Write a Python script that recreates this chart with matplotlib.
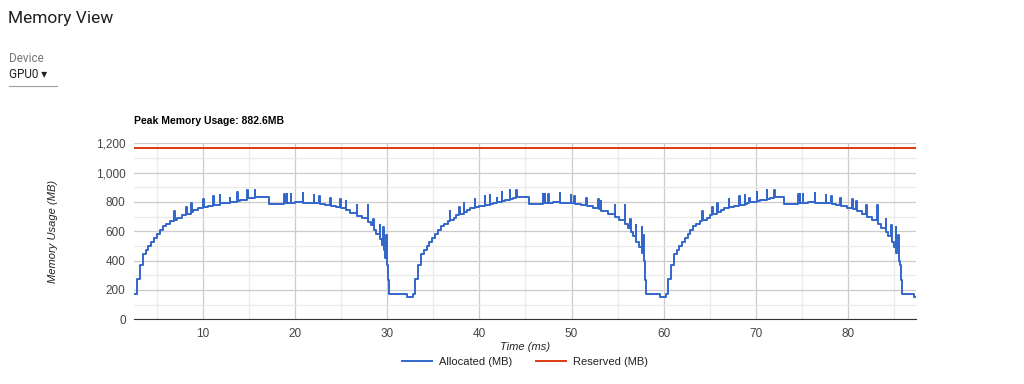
import matplotlib.pyplot as plt
from matplotlib.ticker import MultipleLocator, FuncFormatter

# allocated memory (step data, spikes written as up/down pairs)
t1 = [2.55, 2.8, 3.17, 3.5, 3.8, 4.07, 4.36, 4.69, 5.04, 5.34, 5.63, 5.99, 6.42,
      6.85, 6.9, 7.15, 7.69, 8.16, 8.21, 8.7, 8.75, 8.95, 9.5, 10.04, 10.09, 10.5,
      11.1, 11.15, 11.8, 11.85, 12.4, 12.9, 12.95, 13.7, 13.75, 14.0, 14.8, 14.85,
      15.0, 15.6, 15.65, 17.2, 18.0, 18.8, 18.85, 19.1, 19.15, 19.5, 19.55, 20.0,
      20.8, 20.85, 21.5, 22.0, 22.05, 22.6, 22.65, 23.2, 23.8, 23.85, 24.4, 24.9,
      24.95, 25.5, 25.55, 26.0, 26.7, 26.75, 27.2, 27.9, 27.95, 28.2, 28.5, 28.55,
      28.8, 29.2, 29.25, 29.4, 29.55, 29.6, 29.75, 29.9, 29.95, 30.05, 30.2, 32.1,
      32.8]
mb1 = [175, 273, 368, 443, 470, 500, 527, 557, 584, 612, 634, 652, 670,
       736, 680, 694, 709, 766, 715, 793, 735, 748, 758, 818, 765, 772,
       839, 782, 846, 790, 795, 828, 800, 868, 808, 815, 880, 825,
       830, 882.6, 833, 784, 788, 852, 790, 857, 792, 855, 795, 797,
       864, 795, 793, 850, 790, 839, 785, 780, 827, 772, 765, 823,
       758, 805, 745, 728, 777, 705, 690, 777, 665, 645, 687, 610,
       585, 641, 545, 510, 630, 470, 420, 573, 370, 270, 170, 150,
       170]

t2 = [33.0, 33.35, 33.7, 34.0, 34.26, 34.55, 34.9, 35.2, 35.5, 35.8, 36.2, 36.6,
      36.8, 36.85, 37.2, 37.5, 37.8, 37.85, 38.3, 38.35, 38.6, 39.0, 39.5, 39.55,
      40.0, 40.6, 40.65, 41.1, 41.15, 41.5, 41.9, 41.95, 42.4, 42.45, 42.8, 43.3,
      43.35, 43.6, 44.0, 44.05, 45.4, 46.3, 46.9, 46.95, 47.1, 47.15, 47.5, 47.55,
      48.0, 48.7, 48.75, 49.3, 49.9, 49.95, 50.3, 50.35, 51.0, 51.6, 51.65, 52.3,
      52.9, 52.95, 53.2, 53.25, 54.0, 54.7, 54.75, 55.2, 55.8, 55.85, 56.1, 56.4,
      56.45, 56.7, 57.0, 57.05, 57.3, 57.6, 57.65, 57.8, 57.85, 57.95, 58.02, 58.1,
      59.6, 60.3]
mb2 = [273, 368, 443, 470, 500, 527, 557, 584, 612, 634, 652, 670,
       736, 680, 694, 709, 766, 715, 793, 735, 748, 758, 818, 765,
       772, 839, 782, 846, 788, 795, 828, 800, 868, 808, 815, 880,
       822, 828, 882, 832, 784, 788, 852, 790, 857, 792, 855, 795,
       797, 864, 795, 793, 850, 790, 839, 785, 778, 827, 770, 762,
       823, 752, 805, 740, 715, 777, 695, 675, 777, 650, 625, 687,
       595, 570, 641, 530, 495, 630, 455, 573, 400, 370, 270, 170,
       150, 170]

t3 = [60.5, 60.8, 61.1, 61.4, 61.7, 61.95, 62.3, 62.6, 62.9, 63.2, 63.5, 63.9,
      64.2, 64.25, 64.7, 65.0, 65.3, 65.35, 65.8, 65.85, 66.2, 66.6, 67.1, 67.15,
      67.6, 68.2, 68.25, 68.8, 68.85, 69.0, 69.3, 69.35, 70.1, 70.15, 70.5, 71.2,
      71.25, 71.6, 72.0, 72.05, 73.1, 74.0, 74.6, 74.65, 74.8, 74.85, 75.1, 75.15,
      75.7, 76.4, 76.45, 77.0, 77.6, 77.65, 78.2, 78.25, 78.7, 79.2, 79.25, 79.9,
      80.5, 80.55, 80.9, 80.95, 81.5, 82.0, 82.05, 82.6, 83.2, 83.25, 83.6, 84.1,
      84.15, 84.4, 84.7, 84.75, 85.0, 85.2, 85.25, 85.5, 85.55, 85.65, 85.75, 85.85,
      87.2, 87.4]
mb3 = [273, 368, 443, 470, 500, 527, 557, 584, 612, 634, 652, 670,
       736, 680, 694, 709, 766, 715, 793, 735, 748, 758, 818, 765,
       772, 839, 782, 846, 788, 795, 828, 800, 868, 808, 815, 880,
       822, 828, 882, 832, 784, 788, 852, 790, 857, 792, 855, 795,
       797, 864, 795, 793, 850, 790, 839, 785, 778, 827, 770, 762,
       823, 752, 805, 740, 715, 777, 695, 675, 777, 650, 625, 687,
       595, 570, 641, 530, 495, 630, 455, 573, 400, 370, 270, 170,
       150, 150]

reserved_mb = 1166
peak_mb = 882.6
x_range = [2.5, 87.4]

time_ms = t1 + t2 + t3
allocated = mb1 + mb2 + mb3

fig = plt.figure(figsize=(10.24, 3.84), dpi=100)

# page header bits
fig.text(8/1024, 1 - 19/384, 'Memory View', fontsize=12.5, family='Roboto',
         color='#212121', va='center')
fig.text(9/1024, 1 - 59/384, 'Device', fontsize=8.5, family='Roboto',
         color='#757575', va='center')
fig.text(9/1024, 1 - 75/384, 'GPU0 \u25be', fontsize=8.5,
         family=['Roboto', 'DejaVu Sans'], color='#212121', va='center')
fig.add_artist(plt.Line2D([9/1024, 57/1024], [1 - 86/384, 1 - 86/384],
                          color='#9e9e9e', lw=0.8))

ax = fig.add_axes([134/1024, 1 - 319.3/384, 782/1024, 176/384])
ax.step(time_ms, allocated, where='post', color='#3366cc', lw=1.4,
        label='Allocated (MB)')
ax.plot(x_range, [reserved_mb, reserved_mb], color='#dc3912', lw=1.4,
        label='Reserved (MB)')

ax.set_xlim(x_range)
ax.set_ylim(0, 1200)
ax.xaxis.set_major_locator(MultipleLocator(10))
ax.xaxis.set_minor_locator(MultipleLocator(5))
ax.yaxis.set_major_locator(MultipleLocator(200))
ax.yaxis.set_minor_locator(MultipleLocator(100))
ax.yaxis.set_major_formatter(FuncFormatter(lambda v, p: f'{int(v):,}'))
ax.grid(which='major', color='#cccccc', lw=0.9)
ax.grid(which='minor', color='#ebebeb', lw=0.9)
ax.set_axisbelow(True)
for s in ['top', 'right', 'left']:
    ax.spines[s].set_visible(False)
ax.spines['bottom'].set_color('#333333')
ax.tick_params(which='both', length=0, labelsize=8.5, labelcolor='#444444', pad=6)
for lab in ax.get_xticklabels() + ax.get_yticklabels():
    lab.set_family('Liberation Sans')

ax.set_xlabel('Time (ms)', fontsize=8, style='italic', color='#222222',
              family='Liberation Sans', labelpad=2)
ax.set_ylabel('Memory Usage (MB)', fontsize=8, style='italic', color='#222222',
              family='Liberation Sans', labelpad=27)

fig.text(134/1024, 1 - 121/384, f'Peak Memory Usage: {peak_mb}MB', fontsize=7.5,
         weight='bold', family='Liberation Sans', va='center')

ax.legend(loc='center', bbox_to_anchor=(525/1024, 1 - 362/384),
          bbox_transform=fig.transFigure, ncol=2, frameon=False,
          prop={'family': 'Liberation Sans', 'size': 8}, handlelength=2.7,
          columnspacing=2.2, handletextpad=0.6)
for txt in ax.get_legend().get_texts():
    txt.set_color('#222222')

plt.savefig('out.png', dpi=100)
